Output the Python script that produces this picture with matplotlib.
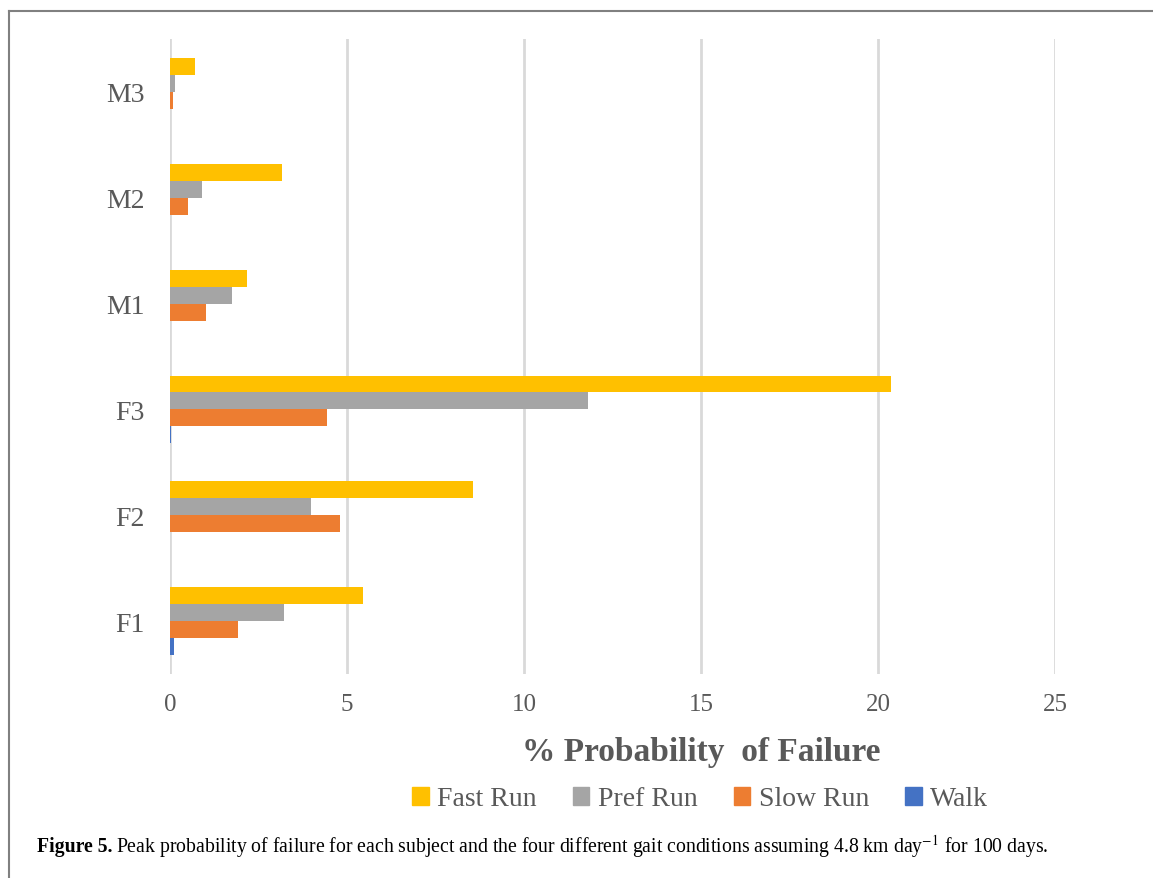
import matplotlib.pyplot as plt
from matplotlib.lines import Line2D
from matplotlib.patches import Patch
import numpy as np

subjects = ['F1', 'F2', 'F3', 'M1', 'M2', 'M3']
walk = [0.12, 0.0, 0.03, 0.0, 0.0, 0.0]
slow_run = [1.92, 4.80, 4.43, 1.02, 0.50, 0.08]
pref_run = [3.22, 3.98, 11.80, 1.75, 0.90, 0.15]
fast_run = [5.45, 8.56, 20.37, 2.18, 3.16, 0.70]

series_names = ['Walk', 'Slow Run', 'Pref Run', 'Fast Run']
series_colors = ['#4472C4', '#ED7D31', '#A5A5A5', '#FFC000']
x_ticks = [0, 5, 10, 15, 20, 25]

text_grey = '#595959'
plt.rcParams['font.family'] = ['Liberation Serif', 'DejaVu Serif']
plt.rcParams['mathtext.fontset'] = 'stix'

fig = plt.figure(figsize=(11.53, 8.79), dpi=100)
ax = fig.add_axes([170 / 1153, 1 - 675 / 879, 885 / 1153, 635 / 879])

y = np.arange(len(subjects))
h = 0.16
for i, (vals, name, col) in enumerate(zip([walk, slow_run, pref_run, fast_run], series_names, series_colors)):
    ax.barh(y + (i - 1.5) * h, vals, height=h, color=col, label=name, zorder=3)

ax.set_xlim(0, 25)
ax.set_ylim(-0.5, len(subjects) - 0.5)
ax.set_xticks(x_ticks)
ax.set_yticks(y)
ax.set_yticklabels(subjects)
ax.tick_params(axis='x', length=0, labelsize=18, labelcolor=text_grey, pad=14)
ax.tick_params(axis='y', length=0, labelsize=20, labelcolor=text_grey, pad=18)
ax.grid(axis='x', color='#d9d9d9', linewidth=2, zorder=0)
for s in ax.spines.values():
    s.set_visible(False)

fig.text(701 / 1153, 1 - 753 / 879, '% Probability  of Failure', ha='center', va='center',
         fontsize=24, fontweight='bold', color=text_grey)

handles = [Patch(color=c, label=n) for n, c in zip(series_names, series_colors)][::-1]
fig.legend(handles=handles, loc='center', bbox_to_anchor=(700 / 1153, 1 - 800 / 879), ncol=4,
           frameon=False, fontsize=20, labelcolor=text_grey, handlelength=0.6, handleheight=0.6,
           handletextpad=0.3, columnspacing=1.3)

# frame lines (left and top)
fig.add_artist(Line2D([9 / 1153, 9 / 1153], [0, 1 - 12 / 879], color='#808080', linewidth=1.5))
fig.add_artist(Line2D([9 / 1153, 1], [1 - 12 / 879, 1 - 12 / 879], color='#808080', linewidth=1.5))

# caption
cap_y = 1 - 847 / 879
t1 = fig.text(37 / 1153, cap_y, 'Figure 5.', fontsize=14.2, fontweight='bold', va='center')
fig.canvas.draw()
bb = t1.get_window_extent()
fig.text((bb.x1 + 4) / 1153, cap_y,
         'Peak probability of failure for each subject and the four different gait conditions '
         'assuming 4.8 km day$^{-1}$ for 100 days.', fontsize=14.2, va='center')

fig.savefig('out.png', dpi=100)
